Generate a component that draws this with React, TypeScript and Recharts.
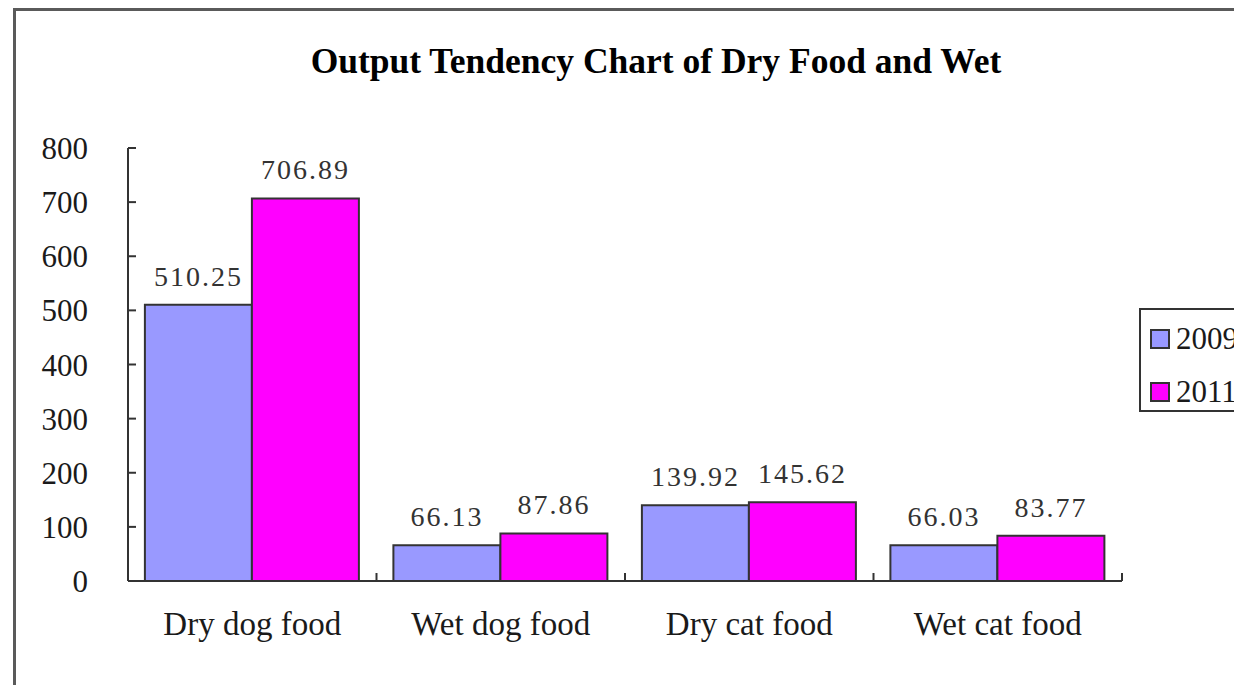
import React from "react";
import { BarChart, Bar, XAxis, YAxis, LabelList, Legend } from "recharts";

const categories = ["Dry dog food", "Wet dog food", "Dry cat food", "Wet cat food"];
const values2009 = [510.25, 66.13, 139.92, 66.03];
const values2011 = [706.89, 87.86, 145.62, 83.77];
const seriesNames = ["2009", "2011"];
const seriesColors = ["#9999FF", "#FF00FF"];
const yTicks = [0, 100, 200, 300, 400, 500, 600, 700, 800];

const data = categories.map((name, i) => ({
  name,
  y2009: values2009[i],
  y2011: values2011[i],
}));

const serif = '"Liberation Serif", "Times New Roman", serif';
const ink = "#1a1a1a";
const labelGap = 31;

// category label plus the small upward tick marks on the band edges
function CategoryTick(props: any) {
  const { x, y, payload } = props;
  const half = payload.offset || 0;
  const axisY = y - labelGap;
  return (
    <g>
      {payload.index === 0 && (
        <line x1={x - half} x2={x - half} y1={axisY} y2={axisY - 8} stroke="#333" strokeWidth={2} />
      )}
      <line x1={x + half} x2={x + half} y1={axisY} y2={axisY - 8} stroke="#333" strokeWidth={2} />
      <text
        x={x}
        y={y}
        dy="0.71em"
        textAnchor="middle"
        fontFamily={serif}
        fontSize={33}
        fill={ink}
      >
        {payload.value}
      </text>
    </g>
  );
}

function BoxLegend() {
  return (
    <div
      style={{
        width: 150,
        height: 104,
        border: "2px solid #333",
        boxSizing: "border-box",
        background: "#fff",
        paddingTop: 2,
      }}
    >
      {seriesNames.map((name, i) => (
        <div
          key={name}
          style={{ display: "flex", alignItems: "center", height: 53, paddingLeft: 9 }}
        >
          <div
            style={{
              width: 20,
              height: 20,
              background: seriesColors[i],
              border: "2px solid #333",
              boxSizing: "border-box",
              marginRight: 6,
            }}
          />
          <span style={{ fontFamily: serif, fontSize: 31, color: ink, lineHeight: 1 }}>
            {name}
          </span>
        </div>
      ))}
    </div>
  );
}

export default function App() {
  return (
    <div style={{ position: "relative", width: 1234, height: 677, overflow: "hidden" }}>
      <div
        style={{
          position: "absolute",
          left: 5,
          top: 0,
          width: 1400,
          height: 800,
          border: "3px solid #5a5a5a",
          boxSizing: "border-box",
        }}
      />
      <div
        style={{
          position: "absolute",
          left: 0,
          top: 32,
          width: 1296,
          textAlign: "center",
          fontFamily: serif,
          fontWeight: "bold",
          fontSize: 35.5,
          color: "#000",
        }}
      >
        Output Tendency Chart of Dry Food and Wet
      </div>
      <div style={{ position: "absolute", left: 0, top: 0 }}>
        <BarChart
          width={1234}
          height={677}
          data={data}
          margin={{ top: 140, right: 120, bottom: 44, left: 30 }}
          barGap={0}
          barCategoryGap="6.8%"
        >
          <XAxis
            dataKey="name"
            axisLine={{ stroke: "#333", strokeWidth: 2 }}
            tickLine={false}
            tickSize={0}
            tickMargin={labelGap}
            height={60}
            tick={<CategoryTick />}
          />
          <YAxis
            domain={[0, 800]}
            ticks={yTicks}
            width={90}
            axisLine={{ stroke: "#333", strokeWidth: 2 }}
            tickLine={false}
            tickSize={0}
            tickMargin={40}
            tick={{ fontFamily: serif, fontSize: 31, fill: ink }}
          />
          <YAxis
            yAxisId="inner"
            domain={[0, 800]}
            ticks={yTicks}
            allowDataOverflow
            mirror
            width={1}
            axisLine={false}
            tickLine={{ stroke: "#333", strokeWidth: 2 }}
            tickSize={8}
            tickFormatter={() => ""}
          />
          <Legend
            layout="vertical"
            align="center"
            verticalAlign="middle"
            wrapperStyle={{ left: 1131, top: 300, width: 150 }}
            content={() => <BoxLegend />}
          />
          <Bar
            dataKey="y2009"
            name={seriesNames[0]}
            fill={seriesColors[0]}
            stroke="#333"
            strokeWidth={2}
            isAnimationActive={false}
          >
            <LabelList
              dataKey="y2009"
              position="top"
              offset={19}
              formatter={(v: number) => v.toFixed(2)}
              style={{ fontFamily: serif, fontSize: 28, fill: "#333", letterSpacing: 2 }}
            />
          </Bar>
          <Bar
            dataKey="y2011"
            name={seriesNames[1]}
            fill={seriesColors[1]}
            stroke="#333"
            strokeWidth={2}
            isAnimationActive={false}
          >
            <LabelList
              dataKey="y2011"
              position="top"
              offset={19}
              formatter={(v: number) => v.toFixed(2)}
              style={{ fontFamily: serif, fontSize: 28, fill: "#333", letterSpacing: 2 }}
            />
          </Bar>
        </BarChart>
      </div>
    </div>
  );
}
